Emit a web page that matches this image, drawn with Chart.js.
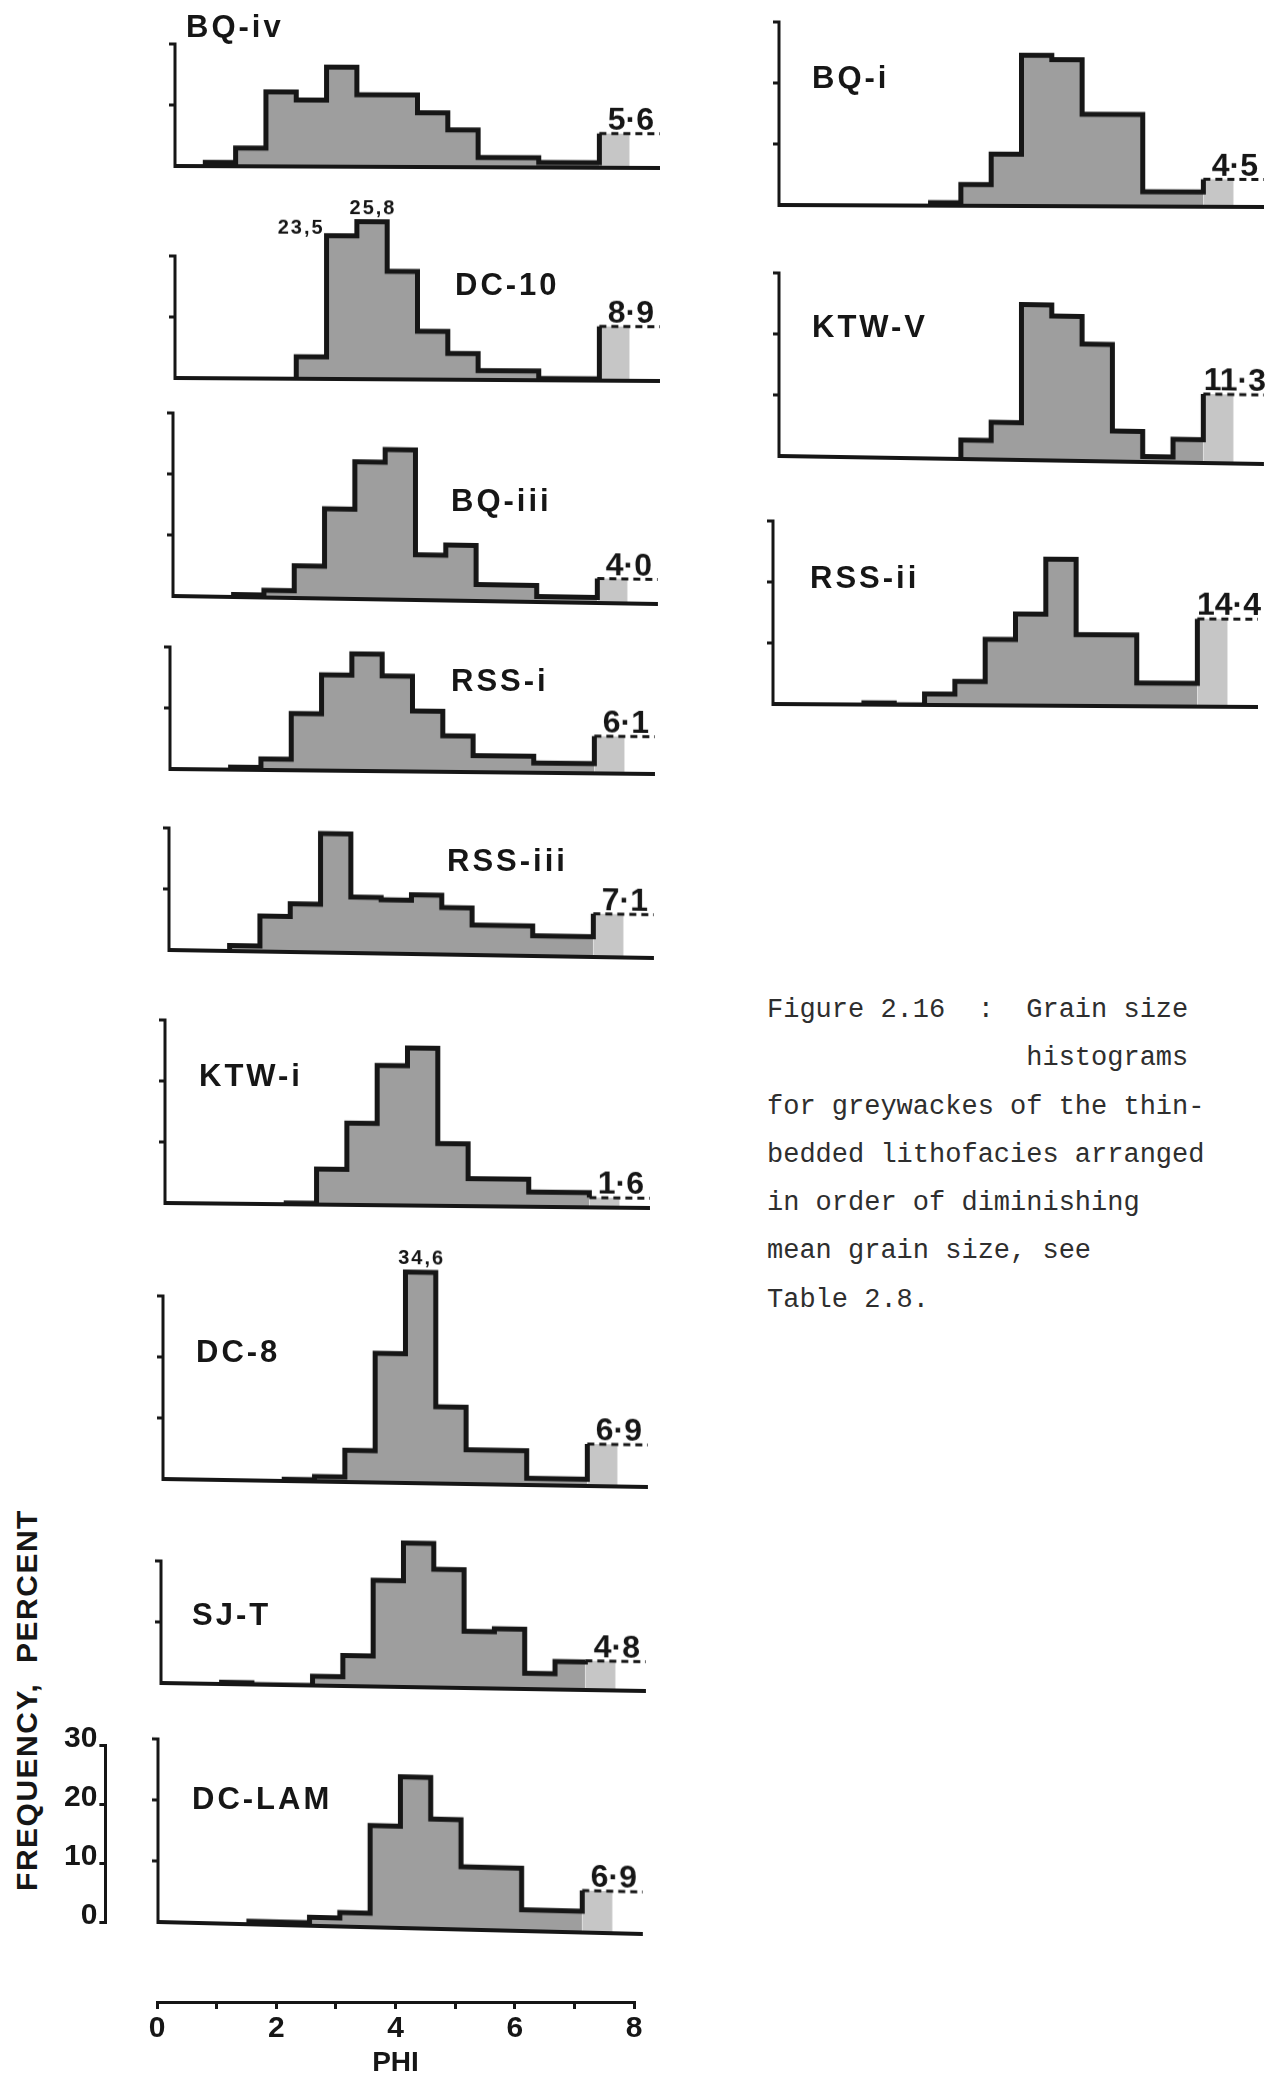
<!DOCTYPE html>
<html>
<head>
<meta charset="utf-8">
<title>Figure 2.16 grain size histograms</title>
<script src="https://cdn.jsdelivr.net/npm/chart.js@4.4.1/dist/chart.umd.min.js"></script>
<style>
  html, body { margin: 0; padding: 0; background: #fff; }
  body { width: 1269px; height: 2082px; position: relative; overflow: hidden;
         font-family: "Liberation Sans", Arial, sans-serif; color: #161616; }
  .box { position: absolute; }
  .name { position: absolute; font-weight: bold; font-size: 31px; letter-spacing: 3px;
          line-height: 1; white-space: nowrap; transform: translateY(-50%); }
  .ylab { position: absolute; left: 27px; top: 1700px; font-weight: bold; font-size: 30px;
          letter-spacing: 1.5px; white-space: pre; line-height: 1;
          transform: translate(-50%, -50%) rotate(-90deg); }
  .caption { position: absolute; left: 767px; top: 986px; font-family: "Liberation Mono", monospace;
             font-size: 27px; line-height: 48.3px; white-space: pre; color: #2e2e2e; }
</style>
</head>
<body>
<div class="ylab">FREQUENCY,  PERCENT</div>
<div class="caption">Figure 2.16  :  Grain size
                histograms
for greywackes of the thin-
bedded lithofacies arranged
in order of diminishing
mean grain size, see
Table 2.8.</div>
<script>
// Données (pourcentage par classe de 0,5 phi)
const sampleNames = ['BQ-iv', 'DC-10', 'BQ-iii', 'RSS-i', 'RSS-iii', 'KTW-i', 'DC-8', 'SJ-T', 'DC-LAM', 'BQ-i', 'KTW-V', 'RSS-ii'];
// bornes inférieures des classes, 0.5 -> 6.5 phi
const binLower = [0.5, 1.0, 1.5, 2.0, 2.5, 3.0, 3.5, 4.0, 4.5, 5.0, 5.5, 6.0, 6.5];
const bqIv   = [0.6, 3.0, 12.2, 10.9, 16.3, 11.8, 11.8, 8.9, 6.1, 1.6, 1.6, 0.8, 0.8];
const dc10   = [0, 0, 0, 3.6, 23.5, 25.8, 17.7, 7.9, 4.3, 1.5, 1.5, 0.3, 0.3];
const bqIii  = [0, 0.4, 1.2, 5.3, 14.7, 22.5, 24.6, 7.4, 9.1, 2.7, 2.7, 0.9, 0.9];
const rssI   = [0, 0.4, 1.8, 9.3, 15.7, 19.2, 15.6, 9.9, 5.9, 2.7, 2.7, 1.6, 1.6];
const rssIii = [0, 0.9, 5.8, 7.9, 19.5, 9.2, 8.8, 9.7, 7.7, 4.9, 4.9, 3.3, 3.3];
const ktwI   = [0, 0, 0, 0.2, 5.8, 13.4, 22.9, 25.8, 10.2, 4.5, 4.5, 2.4, 2.4];
const dc8    = [0, 0, 0, 0.3, 0.8, 5.2, 21.2, 34.6, 12.6, 5.6, 5.6, 1.1, 1.1];
const sjT    = [0, 0.3, 0, 0, 1.5, 5.0, 17.4, 23.6, 19.4, 9.3, 9.8, 2.6, 4.6];
const dcLam  = [0, 0, 0.5, 0.5, 1.4, 2.3, 16.7, 24.8, 18.0, 10.3, 10.3, 3.5, 3.5];
const bqI    = [0, 0, 0, 0, 0.5, 3.5, 8.5, 24.7, 24.0, 15.1, 15.1, 2.4, 2.4];
const ktwV   = [0, 0, 0, 0, 0, 3.1, 6.1, 25.5, 23.7, 19.2, 5.0, 0.9, 3.8];
const rssIi  = [0, 0, 0.3, 0, 1.8, 3.9, 10.8, 15.0, 24.0, 11.7, 11.7, 3.8, 3.8];
const series = [bqIv, dc10, bqIii, rssI, rssIii, ktwI, dc8, sjT, dcLam, bqI, ktwV, rssIi];
// fraction fine (> 7 phi), valeur écrite au-dessus du trait pointillé
const tailPhi = [7.0, 7.5];
const tailValues = [5.6, 8.9, 4.0, 6.1, 7.1, 1.6, 6.9, 4.8, 6.9, 4.5, 11.3, 14.4];
const axisTops = [20, 20, 30, 20, 20, 30, 30, 20, 30, 30, 30, 30];
// classes dont la valeur est écrite (hors échelle)
const notedSamples = ['DC-10', 'DC-10', 'DC-8'];
const notedPhi = [2.5, 3.0, 4.0];
const freqTicks = [0, 10, 20, 30];
const phiTicks = [0, 1, 2, 3, 4, 5, 6, 7, 8];
const phiTickLabels = ['0', '', '2', '', '4', '', '6', '', '8'];

// mise en page (px) : origine de chaque histogramme, inclinaison du scan, position du nom
const layout = [
  { ox: 175, oy: 166, slant: 2, nx: 186, ny: 26 },
  { ox: 175, oy: 378, slant: 3, nx: 455, ny: 284 },
  { ox: 173, oy: 596, slant: 8, nx: 451, ny: 500 },
  { ox: 170, oy: 769, slant: 5, nx: 451, ny: 680 },
  { ox: 169, oy: 950, slant: 8, nx: 447, ny: 860 },
  { ox: 165, oy: 1203, slant: 5, nx: 199, ny: 1075 },
  { ox: 163, oy: 1479, slant: 8, nx: 196, ny: 1351 },
  { ox: 161, oy: 1683, slant: 8, nx: 192, ny: 1614 },
  { ox: 158, oy: 1922, slant: 12, nx: 192, ny: 1798 },
  { ox: 779, oy: 205, slant: 2, nx: 812, ny: 77 },
  { ox: 779, oy: 456, slant: 8, nx: 812, ny: 326 },
  { ox: 773, oy: 704, slant: 3, nx: 810, ny: 577 }
];
const noteSide = ['left', 'above', 'above'];

const INK = '#161616';
const FILL = '#9e9e9e';
const FILL_LIGHT = '#c6c6c6';
const AREA_W = 485;   // 8 phi
const AREA_H = 244;   // 0-40 %
const PAD = { left: 16, right: 46, top: 8, bottom: 8 };

function histPoints(vals, tail) {
  const first = vals.findIndex((v) => v > 0);
  const pts = [{ x: binLower[first], y: 0 }];
  for (let i = first; i < vals.length; i++) pts.push({ x: binLower[i], y: vals[i] });
  pts.push({ x: tailPhi[0], y: tail });
  return pts;
}

// axes, ligne de base et valeurs écrites
const frame = {
  id: 'frame',
  afterDatasetsDraw(chart, args, opts) {
    const { ctx } = chart;
    const x = chart.scales.x, y = chart.scales.y;
    const x0 = x.getPixelForValue(0), y0 = y.getPixelForValue(0);
    ctx.save();
    ctx.strokeStyle = INK;
    ctx.fillStyle = INK;
    ctx.lineWidth = 4;
    ctx.beginPath();
    ctx.moveTo(x0, y0);
    ctx.lineTo(x.getPixelForValue(8), y0);
    ctx.stroke();
    ctx.lineWidth = 3;
    const yt = y.getPixelForValue(opts.top);
    ctx.beginPath();
    ctx.moveTo(x0, y0 + 2);
    ctx.lineTo(x0, yt);
    ctx.lineTo(x0 - 6, yt);
    freqTicks.filter((v) => v > 0 && v < opts.top).forEach((v) => {
      const p = y.getPixelForValue(v);
      ctx.moveTo(x0, p);
      ctx.lineTo(x0 - 6, p);
    });
    ctx.stroke();

    ctx.font = 'bold 32px "Liberation Sans"';
    ctx.textAlign = 'center';
    ctx.textBaseline = 'alphabetic';
    ctx.fillText(opts.tail.toFixed(1).replace('.', '·'),
      x.getPixelForValue(tailPhi[1] + 0.02), y.getPixelForValue(opts.tail) - 4);

    ctx.font = 'bold 20px "Liberation Sans"';
    if ('letterSpacing' in ctx) ctx.letterSpacing = '2px';
    opts.notes.forEach((n) => {
      const txt = n.value.toFixed(1).replace('.', ',');
      if (n.side === 'left') {
        ctx.textAlign = 'right';
        ctx.fillText(txt, x.getPixelForValue(n.phi) - 2, y.getPixelForValue(n.value) - 2);
      } else {
        ctx.textAlign = 'center';
        ctx.fillText(txt, x.getPixelForValue(n.phi + 0.25) + 1, y.getPixelForValue(n.value) - 8);
      }
    });
    ctx.restore();
  }
};

sampleNames.forEach((name, i) => {
  const lay = layout[i];
  const vals = series[i];
  const tail = tailValues[i];
  const notes = [];
  notedSamples.forEach((s, k) => {
    if (s === name) {
      notes.push({ phi: notedPhi[k], value: vals[binLower.indexOf(notedPhi[k])], side: noteSide[k] });
    }
  });

  const box = document.createElement('div');
  box.className = 'box';
  const canvas = document.createElement('canvas');
  const w = AREA_W + PAD.left + PAD.right, h = AREA_H + PAD.top + PAD.bottom;
  canvas.width = w; canvas.height = h;
  canvas.style.width = w + 'px'; canvas.style.height = h + 'px';
  box.appendChild(canvas);
  document.body.appendChild(box);

  const chart = new Chart(canvas, {
    type: 'line',
    data: {
      datasets: [
        {
          data: [{ x: tailPhi[0], y: tail }, { x: 8.0, y: tail }],
          borderColor: INK, borderWidth: 3, borderDash: [7, 5], fill: false,
          pointRadius: 0
        },
        {
          data: histPoints(vals, tail),
          stepped: true, borderColor: INK, borderWidth: 5, borderJoinStyle: 'miter',
          backgroundColor: FILL, fill: 'origin', pointRadius: 0
        },
        {
          data: [{ x: tailPhi[0], y: tail }, { x: tailPhi[1], y: tail }],
          borderColor: 'rgba(0,0,0,0)', borderWidth: 1,
          backgroundColor: FILL_LIGHT, fill: 'origin', pointRadius: 0
        }
      ]
    },
    options: {
      responsive: false,
      animation: false,
      events: [],
      layout: { padding: PAD },
      plugins: {
        legend: { display: false },
        tooltip: { enabled: false },
        frame: { top: axisTops[i], tail: tail, notes: notes }
      },
      scales: {
        x: { type: 'linear', display: false, min: 0, max: 8 },
        y: { type: 'linear', display: false, min: 0, max: 40 }
      }
    },
    plugins: [frame]
  });

  const cx = chart.scales.x.getPixelForValue(0);
  const cy = chart.scales.y.getPixelForValue(0);
  box.style.left = (lay.ox - cx) + 'px';
  box.style.top = (lay.oy - cy) + 'px';
  box.style.transformOrigin = cx + 'px ' + cy + 'px';
  box.style.transform = 'skewY(' + (Math.atan(lay.slant / AREA_W) * 180 / Math.PI).toFixed(3) + 'deg)';

  const label = document.createElement('div');
  label.className = 'name';
  label.textContent = name;
  label.style.left = lay.nx + 'px';
  label.style.top = lay.ny + 'px';
  document.body.appendChild(label);
});

// échelle des fréquences
(function () {
  const box = document.createElement('div');
  box.className = 'box';
  const canvas = document.createElement('canvas');
  canvas.width = 130; canvas.height = 217;
  canvas.style.width = '130px'; canvas.style.height = '217px';
  box.appendChild(canvas);
  document.body.appendChild(box);
  const chart = new Chart(canvas, {
    type: 'line',
    data: { datasets: [] },
    options: {
      responsive: false, animation: false, events: [],
      layout: { padding: { top: 20, bottom: 20, left: 0, right: 4 } },
      plugins: { legend: { display: false }, tooltip: { enabled: false } },
      scales: {
        x: { type: 'linear', display: false, min: 0, max: 1 },
        y: {
          type: 'linear', position: 'left', min: 0, max: 30,
          afterBuildTicks: (s) => { s.ticks = freqTicks.map((v) => ({ value: v })); },
          ticks: { font: { family: 'Liberation Sans', weight: 'bold', size: 30 }, color: INK, padding: 2, labelOffset: -6 },
          grid: { drawOnChartArea: false, drawTicks: true, tickLength: 6, lineWidth: 3, color: INK },
          border: { display: true, width: 3, color: INK }
        }
      }
    }
  });
  box.style.left = (105 - chart.chartArea.left) + 'px';
  box.style.top = (1922 - chart.scales.y.getPixelForValue(0)) + 'px';
})();

// échelle phi
(function () {
  const box = document.createElement('div');
  box.className = 'box';
  const canvas = document.createElement('canvas');
  canvas.width = 517; canvas.height = 300;
  canvas.style.width = '517px'; canvas.style.height = '300px';
  box.appendChild(canvas);
  document.body.appendChild(box);
  const chart = new Chart(canvas, {
    type: 'line',
    data: { datasets: [] },
    options: {
      responsive: false, animation: false, events: [],
      layout: { padding: { top: 4, bottom: 2, left: 20, right: 20 } },
      plugins: { legend: { display: false }, tooltip: { enabled: false } },
      scales: {
        y: { type: 'linear', display: false, min: 0, max: 1 },
        x: {
          type: 'linear', position: 'bottom', min: 0, max: 8,
          afterBuildTicks: (s) => { s.ticks = phiTicks.map((v) => ({ value: v })); },
          ticks: {
            callback: (v, idx) => phiTickLabels[idx],
            font: { family: 'Liberation Sans', weight: 'bold', size: 30 },
            color: INK, padding: 2, maxRotation: 0, autoSkip: false
          },
          grid: { drawOnChartArea: false, drawTicks: true, tickLength: 7, lineWidth: 3, color: INK },
          border: { display: true, width: 3, color: INK },
          title: {
            display: true, text: 'PHI', color: INK,
            font: { family: 'Liberation Sans', weight: 'bold', size: 28, lineHeight: 1.0 },
            padding: { top: 0, bottom: 0 }
          }
        }
      }
    }
  });
  box.style.left = (156.6 - chart.scales.x.getPixelForValue(0)) + 'px';
  box.style.top = (2002 - chart.chartArea.bottom) + 'px';
})();
</script>
</body>
</html>
